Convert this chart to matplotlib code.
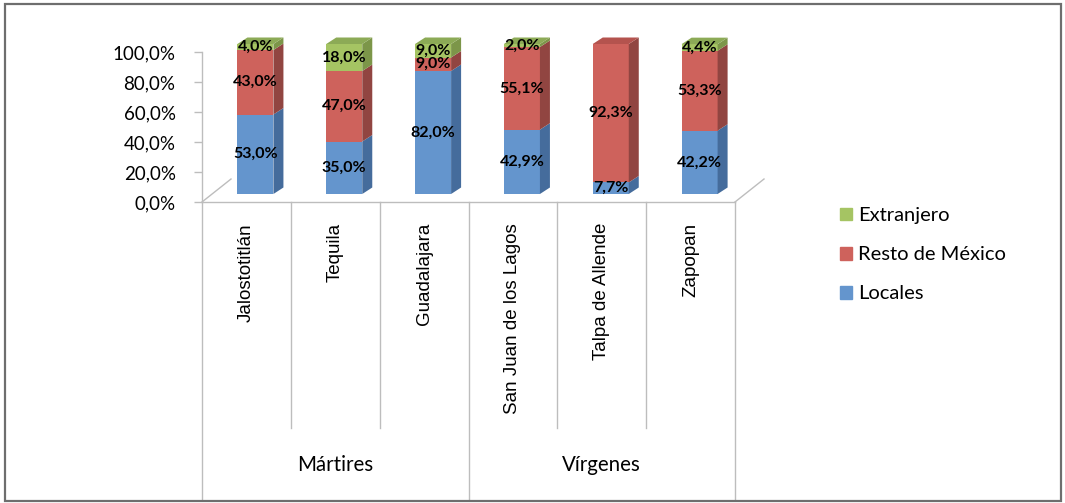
import matplotlib
matplotlib.use("Agg")
import matplotlib.pyplot as plt
from matplotlib.patches import Polygon, Rectangle, Patch

# data
categories = ["Jalostotitlán", "Tequila", "Guadalajara",
              "San Juan de los Lagos", "Talpa de Allende", "Zapopan"]
groups = ["Mártires", "Vírgenes"]
group_size = [3, 3]
locales = [53.0, 35.0, 82.0, 42.9, 7.7, 42.2]
resto = [43.0, 47.0, 9.0, 55.1, 92.3, 53.3]
extranjero = [4.0, 18.0, 9.0, 2.0, 0.0, 4.4]
series_names = ["Locales", "Resto de México", "Extranjero"]
yticks = [0, 20, 40, 60, 80, 100]

front = ["#6495CD", "#CE625C", "#A5C463"]
side = ["#456C9C", "#914541", "#7C9649"]
top = ["#5883B9", "#B4534E", "#8CAA56"]

W, H = 1065, 503


def box(l, t, r, b):
    return [l / W, 1 - b / H, (r - l) / W, (b - t) / H]


def pct(v):
    return f"{v:.1f}%".replace(".", ",")


plt.rcParams["font.family"] = ["Lato", "DejaVu Sans"]
fig = plt.figure(figsize=(W / 100, H / 100), dpi=100)

ax = fig.add_axes(box(202, 52, 735, 202))
ax.set_xlim(-0.5, 5.5)
ax.set_ylim(0, 100)

# depth offsets (category units / percent units)
px_x = 88.8
px_y = 1.5
bar_w = 36 / px_x
off_x, off_y = 9 / px_x, 8 / px_y
dep_x, dep_y = 10 / px_x, 6.5 / px_y
floor_x, floor_y = 29 / px_x, 23 / px_y

gray = "#BDBDBD"
# floor
for xe in (-0.5, 5.5):
    ax.plot([xe, xe + floor_x], [0, floor_y], color=gray, lw=1, clip_on=False)

series = [locales, resto, extranjero]
for i in range(len(categories)):
    bottom = 0.0
    last = None
    for s, vals in enumerate(series):
        v = vals[i]
        if v <= 0:
            continue
        xl = i + off_x - bar_w / 2
        xr = xl + bar_w
        b = bottom + off_y
        t = b + v
        ax.bar(xl, v, width=bar_w, bottom=b, align="edge",
               color=front[s], lw=0, clip_on=False, zorder=3)
        ax.add_patch(Polygon([(xr, b), (xr + dep_x, b + dep_y),
                              (xr + dep_x, t + dep_y), (xr, t)],
                             closed=True, fc=side[s], lw=0,
                             clip_on=False, zorder=3))
        ax.text(i + off_x, b + v / 2, pct(v), ha="center", va="center",
                fontsize=11.5, fontweight="bold", color="black",
                clip_on=False, zorder=5)
        last = (s, xl, xr, t)
        bottom += v
    s, xl, xr, t = last
    ax.add_patch(Polygon([(xl, t), (xr, t), (xr + dep_x, t + dep_y),
                          (xl + dep_x, t + dep_y)], closed=True,
                         fc=top[s], lw=0, clip_on=False, zorder=3))

ax.set_xticks([])
ax.set_yticks(yticks)
ax.set_yticklabels([pct(v) for v in yticks], fontsize=13.5)
ax.tick_params(axis="y", direction="out", length=6, width=1, color=gray, pad=13)
for sp in ("top", "right"):
    ax.spines[sp].set_visible(False)
for sp in ("left", "bottom"):
    ax.spines[sp].set_color(gray)
    ax.spines[sp].set_linewidth(1)
ax.patch.set_alpha(0)

# category table below the floor
tab = fig.add_axes(box(202, 202, 735, 500))
tab.set_xlim(-0.5, 5.5)
tab.set_ylim(500, 202)
tab.axis("off")
edges = [-0.5]
for g in group_size:
    edges.append(edges[-1] + g)
for k in range(len(categories) + 1):
    xe = k - 0.5
    y_end = 500 if xe in edges else 428
    tab.plot([xe, xe], [202, y_end], color=gray, lw=1, clip_on=False)
for i, c in enumerate(categories):
    tab.text(i, 223, c, rotation=90, ha="center", va="top", fontsize=13.5,
             family=["Liberation Sans", "DejaVu Sans"])
for g, name in enumerate(groups):
    tab.text((edges[g] + edges[g + 1]) / 2, 465, name, ha="center",
             va="center", fontsize=14.8)

# legend
handles = [Patch(color=front[s]) for s in (2, 1, 0)]
labels = [series_names[s] for s in (2, 1, 0)]
fig.legend(handles, labels, loc="upper left", bbox_to_anchor=(822 / W, 1 - 189 / H),
           frameon=False, fontsize=14.5, handlelength=0.6, handleheight=0.6,
           handletextpad=0.3, labelspacing=1.1)

# outer frame
fig.add_artist(Rectangle((5 / W, 2 / H), 1056 / W, 497 / H,
                         transform=fig.transFigure, fill=False,
                         ec="#6E6E6E", lw=1.6))

fig.savefig("out.png", dpi=100)
